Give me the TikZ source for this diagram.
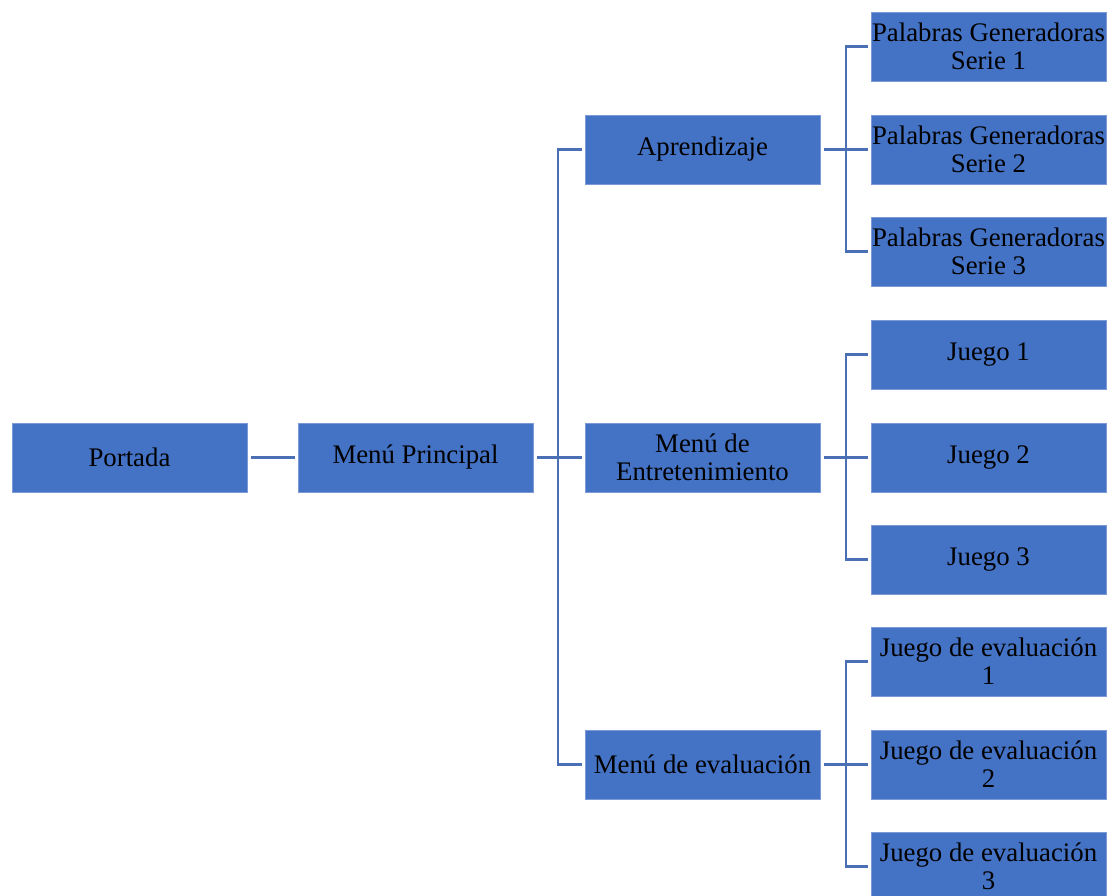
\documentclass[tikz,border=0pt]{standalone}
\usepackage{fontspec}
\setmainfont{Liberation Serif}
\definecolor{boxblue}{HTML}{4472C4}
\definecolor{edgeblue}{HTML}{7C9BD6}
\definecolor{lineblue}{HTML}{4A6FB5}
\tikzset{
  box/.style={rectangle, fill=boxblue, draw=edgeblue, line width=0.8pt,
    minimum width=235pt, minimum height=69pt, inner sep=0pt, align=center,
    font=\fontsize{26.8}{28}\selectfont, text=black},
  conn/.style={draw=lineblue, line width=2.8pt}
}
\begin{document}
\begin{tikzpicture}[x=1pt,y=-1pt]
\useasboundingbox (0,0) rectangle (1108,895);
\clip (0,0) rectangle (1108,895);
\node[box] (portada) at (129.5,457.5) {Portada};
\node[box] (menu) at (415.5,457.5) {Menú Principal};
\node[box] (aprend) at (702.5,149.5) {Aprendizaje};
\node[box] (entret) at (702.5,457.5) {Menú de\\Entretenimiento};
\node[box] (evalm) at (702.5,764.5) {Menú de evaluación};
\node[box] (s1) at (988.5,46.5) {Palabras Generadoras\\Serie 1};
\node[box] (s2) at (988.5,149.5) {Palabras Generadoras\\Serie 2};
\node[box] (s3) at (988.5,251.5) {Palabras Generadoras\\Serie 3};
\node[box] (j1) at (988.5,354.5) {Juego 1};
\node[box] (j2) at (988.5,457.5) {Juego 2};
\node[box] (j3) at (988.5,559.5) {Juego 3};
\node[box] (e1) at (988.5,661.5) {Juego de evaluación\\1};
\node[box] (e2) at (988.5,764.5) {Juego de evaluación\\2};
\node[box] (e3) at (988.5,866.5) {Juego de evaluación\\3};
\coordinate (t1) at (558,457.5);
\coordinate (ta) at (846,149.5);
\coordinate (tb) at (846,457.5);
\coordinate (tc) at (846,764.5);
\draw[conn] ([xshift=4pt]portada.east) -- ([xshift=-3pt]menu.west);
\draw[conn] ([xshift=4pt]menu.east) -- ([xshift=-3pt]entret.west);
\draw[conn] ([xshift=-3pt]aprend.west) -| (t1) |- ([xshift=-3pt]evalm.west);
\draw[conn] ([xshift=4pt]aprend.east) -- ([xshift=-3pt]s2.west);
\draw[conn] ([xshift=-3pt]s1.west) -| (ta) |- ([xshift=-3pt]s3.west);
\draw[conn] ([xshift=4pt]entret.east) -- ([xshift=-3pt]j2.west);
\draw[conn] ([xshift=-3pt]j1.west) -| (tb) |- ([xshift=-3pt]j3.west);
\draw[conn] ([xshift=4pt]evalm.east) -- ([xshift=-3pt]e2.west);
\draw[conn] ([xshift=-3pt]e1.west) -| (tc) |- ([xshift=-3pt]e3.west);
\end{tikzpicture}
\end{document}
